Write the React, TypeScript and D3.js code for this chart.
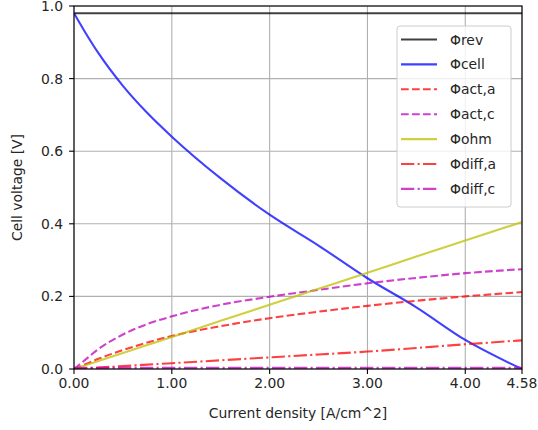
import React from "react";
import * as d3 from "d3";

// current density samples [A/cm^2]
const currentDensity = [0, 0.1, 0.25, 0.5, 0.75, 1, 1.5, 2, 2.5, 3, 3.5, 4, 4.58];
// voltages [V]
const phiRev = [0.98, 0.98, 0.98, 0.98, 0.98, 0.98, 0.98, 0.98, 0.98, 0.98, 0.98, 0.98, 0.98];
const phiCell = [0.98, 0.934, 0.87, 0.78, 0.705, 0.64, 0.525, 0.425, 0.34, 0.25, 0.17, 0.08, 0.0];
const phiActA = [0, 0.011, 0.028, 0.052, 0.073, 0.091, 0.118, 0.14, 0.158, 0.174, 0.188, 0.2, 0.212];
const phiActC = [0, 0.022, 0.055, 0.095, 0.124, 0.145, 0.177, 0.199, 0.218, 0.236, 0.251, 0.264, 0.275];
const phiOhm = [0, 0.009, 0.022, 0.044, 0.066, 0.088, 0.133, 0.177, 0.221, 0.265, 0.31, 0.354, 0.405];
const phiDiffA = [0, 0.0015, 0.004, 0.008, 0.012, 0.016, 0.024, 0.032, 0.04, 0.048, 0.058, 0.068, 0.079];
const phiDiffC = [0.003, 0.003, 0.003, 0.003, 0.003, 0.003, 0.003, 0.003, 0.003, 0.003, 0.003, 0.003, 0.003];

const xTicks = [0, 1, 2, 3, 4, 4.58];
const yTicks = [0, 0.2, 0.4, 0.6, 0.8, 1.0];

const series = [
  { name: "Φrev", values: phiRev, color: "#000000", dash: "" },
  { name: "Φcell", values: phiCell, color: "#0000ff", dash: "" },
  { name: "Φact,a", values: phiActA, color: "#ff0000", dash: "7.7,3.3" },
  { name: "Φact,c", values: phiActC, color: "#bf00bf", dash: "7.7,3.3" },
  { name: "Φohm", values: phiOhm, color: "#bfbf00", dash: "" },
  { name: "Φdiff,a", values: phiDiffA, color: "#ff0000", dash: "13.3,3.3,2.1,3.3" },
  { name: "Φdiff,c", values: phiDiffC, color: "#bf00bf", dash: "13.3,3.3,2.1,3.3" },
];

const W = 538;
const H = 430;
const margin = { left: 74, right: 16, top: 6, bottom: 61 };
const font = "'DejaVu Sans', sans-serif";

export default function App() {
  const x = d3.scaleLinear().domain([0, 4.58]).range([margin.left, W - margin.right]);
  const y = d3.scaleLinear().domain([0, 1]).range([H - margin.bottom, margin.top]);
  const line = d3
    .line<number>()
    .x((_, i) => x(currentDensity[i]))
    .y((d) => y(d))
    .curve(d3.curveMonotoneX);

  const [x0, x1] = x.range();
  const [y0, y1] = y.range();
  const legendX = 397;
  const legendY = 26;

  return (
    <svg width={W} height={H} style={{ position: "absolute", left: 0, top: 0, background: "#fff" }}>
      <defs>
        <clipPath id="plot">
          <rect x={x0} y={y1} width={x1 - x0} height={y0 - y1} />
        </clipPath>
      </defs>
      {/* grid */}
      <g stroke="#b0b0b0" strokeWidth={1.1}>
        {xTicks.map((t) => (
          <line key={"gx" + t} x1={x(t)} x2={x(t)} y1={y0} y2={y1} />
        ))}
        {yTicks.map((t) => (
          <line key={"gy" + t} x1={x0} x2={x1} y1={y(t)} y2={y(t)} />
        ))}
      </g>
      {/* curves */}
      <g clipPath="url(#plot)" fill="none">
        {series.map((s) => (
          <path
            key={s.name}
            d={line(s.values) || ""}
            stroke={s.color}
            strokeOpacity={0.75}
            strokeWidth={2.1}
            strokeDasharray={s.dash || undefined}
          />
        ))}
      </g>
      {/* frame */}
      <rect x={x0} y={y1} width={x1 - x0} height={y0 - y1} fill="none" stroke="#000" strokeWidth={1.1} />
      {/* x axis */}
      <g fontFamily={font} fontSize={13.9} fill="#262626">
        {xTicks.map((t) => (
          <g key={"xt" + t}>
            <line x1={x(t)} x2={x(t)} y1={y0} y2={y0 + 4.9} stroke="#000" strokeWidth={1.1} />
            <text x={x(t)} y={y0 + 19} textAnchor="middle">
              {t.toFixed(2)}
            </text>
          </g>
        ))}
        {yTicks.map((t) => (
          <g key={"yt" + t}>
            <line x1={x0 - 4.9} x2={x0} y1={y(t)} y2={y(t)} stroke="#000" strokeWidth={1.1} />
            <text x={x0 - 11} y={y(t) + 5} textAnchor="end">
              {t.toFixed(1)}
            </text>
          </g>
        ))}
        <text x={(x0 + x1) / 2} y={H - 12} textAnchor="middle">
          Current density [A/cm^2]
        </text>
        <text transform={`translate(22,${(y0 + y1) / 2}) rotate(-90)`} textAnchor="middle">
          Cell voltage [V]
        </text>
      </g>
      {/* legend */}
      <g fontFamily={font} fontSize={13.9}>
        <rect
          x={legendX}
          y={legendY}
          width={114}
          height={181}
          rx={3}
          fill="#fff"
          fillOpacity={0.8}
          stroke="#cccccc"
          strokeWidth={1}
        />
        {series.map((s, i) => {
          const cy = legendY + 13.5 + i * 24.9;
          return (
            <g key={"lg" + s.name}>
              <line
                x1={legendX + 4}
                x2={legendX + 40}
                y1={cy}
                y2={cy}
                stroke={s.color}
                strokeOpacity={0.75}
                strokeWidth={2.1}
                strokeDasharray={s.dash || undefined}
              />
              <text x={legendX + 53} y={cy + 5} fill="#262626">
                {s.name}
              </text>
            </g>
          );
        })}
      </g>
    </svg>
  );
}
